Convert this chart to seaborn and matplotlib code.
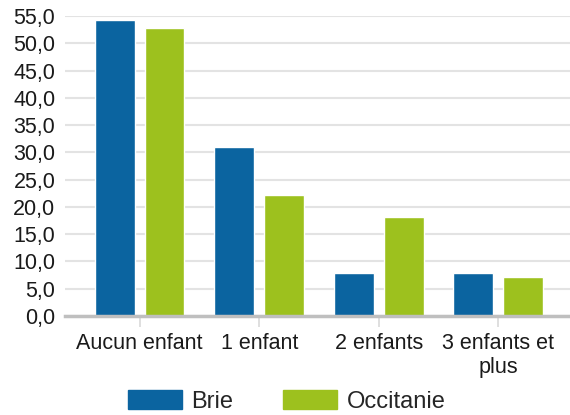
import pandas as pd
import matplotlib
matplotlib.use("Agg")
import matplotlib.pyplot as plt
import seaborn as sns
from matplotlib.ticker import FuncFormatter

# ===== DONNÉES =====
categories = ["Aucun enfant", "1 enfant", "2 enfants", "3 enfants et\nplus"]
brie = [54.2, 31.0, 7.9, 7.9]
occitanie = [52.8, 22.2, 18.1, 7.1]
series = ["Brie", "Occitanie"]
colors = ["#0B64A0", "#9DC11E"]

df = pd.DataFrame({
    "categorie": categories * 2,
    "valeur": brie + occitanie,
    "zone": [series[0]] * 4 + [series[1]] * 4,
})

# ===== STYLE =====
sns.set_theme(style="white")
plt.rcParams["font.family"] = ["Liberation Sans", "DejaVu Sans"]

fig = plt.figure(figsize=(5.7, 4.15), dpi=100)
ax = fig.add_axes([0.114, 0.2386, 0.886, 0.7228])

sns.barplot(data=df, x="categorie", y="valeur", hue="zone", palette=colors,
            width=0.833, gap=0.2, saturation=1, ax=ax, legend=False)

ax.set_ylim(0, 55)
ax.set_xlim(-0.625, 3.6)
ax.set_yticks(range(0, 56, 5))
ax.yaxis.set_major_formatter(FuncFormatter(lambda v, _: f"{v:.1f}".replace(".", ",")))
ax.grid(axis="y", color="#E3E3E3", linewidth=1.5)
ax.set_axisbelow(True)
for s in ["top", "right", "left"]:
    ax.spines[s].set_visible(False)
ax.spines["bottom"].set_color("#BFBFBF")
ax.spines["bottom"].set_linewidth(2.5)
ax.set_xlabel("")
ax.set_ylabel("")
ax.tick_params(axis="y", length=0, labelsize=15.5, pad=7, labelcolor="#1a1a1a")
ax.tick_params(axis="x", length=8, width=1.2, color="#D9D9D9", labelsize=15.5,
               pad=4, labelcolor="#1a1a1a", bottom=True)

# ===== LÉGENDE =====
handles = [plt.Rectangle((0, 0), 1, 1, color=c) for c in colors]
fig.legend(handles, series, loc="center", bbox_to_anchor=(0.503, 0.033), ncol=2,
           frameon=False, fontsize=17, handlelength=2.3, handleheight=0.85,
           handletextpad=0.4, columnspacing=2.1)

fig.savefig("out.png", dpi=100)
